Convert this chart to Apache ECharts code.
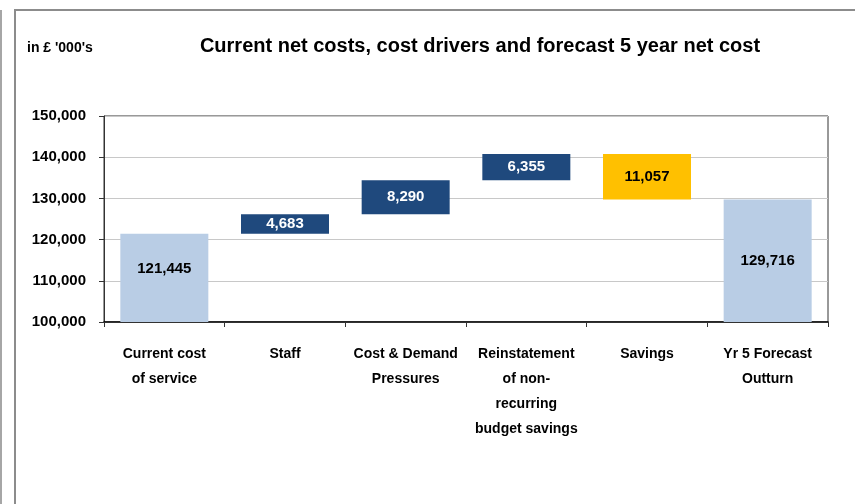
<!DOCTYPE html>
<html>
<head>
<meta charset="utf-8">
<script src="https://cdn.jsdelivr.net/npm/echarts@6/dist/echarts.min.js"></script>
<style>
  html, body { margin: 0; padding: 0; background: #fff; }
  #chart { width: 855px; height: 504px; }
</style>
</head>
<body>
<div id="chart"></div>
<script>
// categories along the x axis
const categories = [
  'Current cost\nof service',
  'Staff',
  'Cost & Demand\nPressures',
  'Reinstatement\nof non-\nrecurring\nbudget savings',
  'Savings',
  'Yr 5 Forecast\nOutturn'
];
// totals (light blue full bars)
const totals = [121445, '-', '-', '-', '-', 129716];
// invisible base under each step
const stepBase = ['-', 121445, 126128, 134418, 129716, '-'];
// step sizes
const steps = ['-', 4683, 8290, 6355, 11057, '-'];
const savingsIndex = 4;

const yMin = 100000, yMax = 150000, yStep = 10000;

const fmt = v => Number(v).toLocaleString('en-GB');
const font = 'Liberation Sans, Arial, sans-serif';

const chart = echarts.init(document.getElementById('chart'));

const option = {
  animation: false,
  textStyle: { fontFamily: font },
  title: {
    text: 'Current net costs, cost drivers and forecast 5 year net cost',
    left: 475,
    textAlign: 'center',
    top: 31,
    textStyle: { fontSize: 20, fontWeight: 'bold', color: '#000', fontFamily: font }
  },
  graphic: [
    { type: 'rect', shape: { x: 0, y: 10, width: 2, height: 494 }, style: { fill: '#a6a6a6' } },
    { type: 'polyline', shape: { points: [[15, 504], [15, 10], [855, 10]] },
      style: { stroke: '#8c8c8c', lineWidth: 2, fill: null } },
    { type: 'text', left: 27, top: 41,
      style: { text: "in £ '000's", font: 'bold 14px ' + font, fill: '#000' } }
  ],
  grid: { left: 104, right: 27, top: 116, bottom: 182, show: true, borderColor: '#333', borderWidth: 1 },
  xAxis: {
    type: 'category',
    data: categories,
    axisLine: { lineStyle: { color: '#000', width: 1.5 } },
    axisTick: { show: true, length: 5, lineStyle: { color: '#333' } },
    axisLabel: {
      interval: 0, margin: 20, color: '#000', fontSize: 14, fontWeight: 'bold',
      lineHeight: 25, align: 'center'
    }
  },
  yAxis: {
    type: 'value',
    min: yMin, max: yMax, interval: yStep,
    axisLine: { show: true, lineStyle: { color: '#333' } },
    axisTick: { show: true, length: 5, lineStyle: { color: '#333' } },
    splitLine: { lineStyle: { color: '#c8c8c8', width: 1.2 } },
    axisLabel: { color: '#000', fontSize: 15, fontWeight: 'bold', margin: 18, formatter: v => fmt(v) }
  },
  series: [
    {
      type: 'bar', name: 'totals', barWidth: 88, barGap: '-100%',
      data: totals.map((v, i) => i === 0 ? { value: v, label: { offset: [0, -9] } } : v),
      itemStyle: { color: '#b9cde5' },
      label: { show: true, position: 'inside', color: '#000', fontSize: 15, fontWeight: 'bold',
        formatter: p => fmt(p.value) }
    },
    {
      type: 'bar', name: 'base', stack: 'w', data: stepBase, barWidth: 88,
      itemStyle: { color: 'transparent' }, silent: true
    },
    {
      type: 'bar', name: 'steps', stack: 'w', barWidth: 88,
      // savings label in black on yellow
      data: steps.map((v, i) => i === savingsIndex ? { value: v, label: { color: '#000' } } : v),
      itemStyle: { color: p => p.dataIndex === savingsIndex ? '#ffc000' : '#1f497d' },
      label: {
        show: true, position: 'inside', fontSize: 15, fontWeight: 'bold',
        formatter: p => fmt(p.value),
        color: '#fff'
      }
    }
  ]
};

chart.setOption(option);
</script>
</body>
</html>
